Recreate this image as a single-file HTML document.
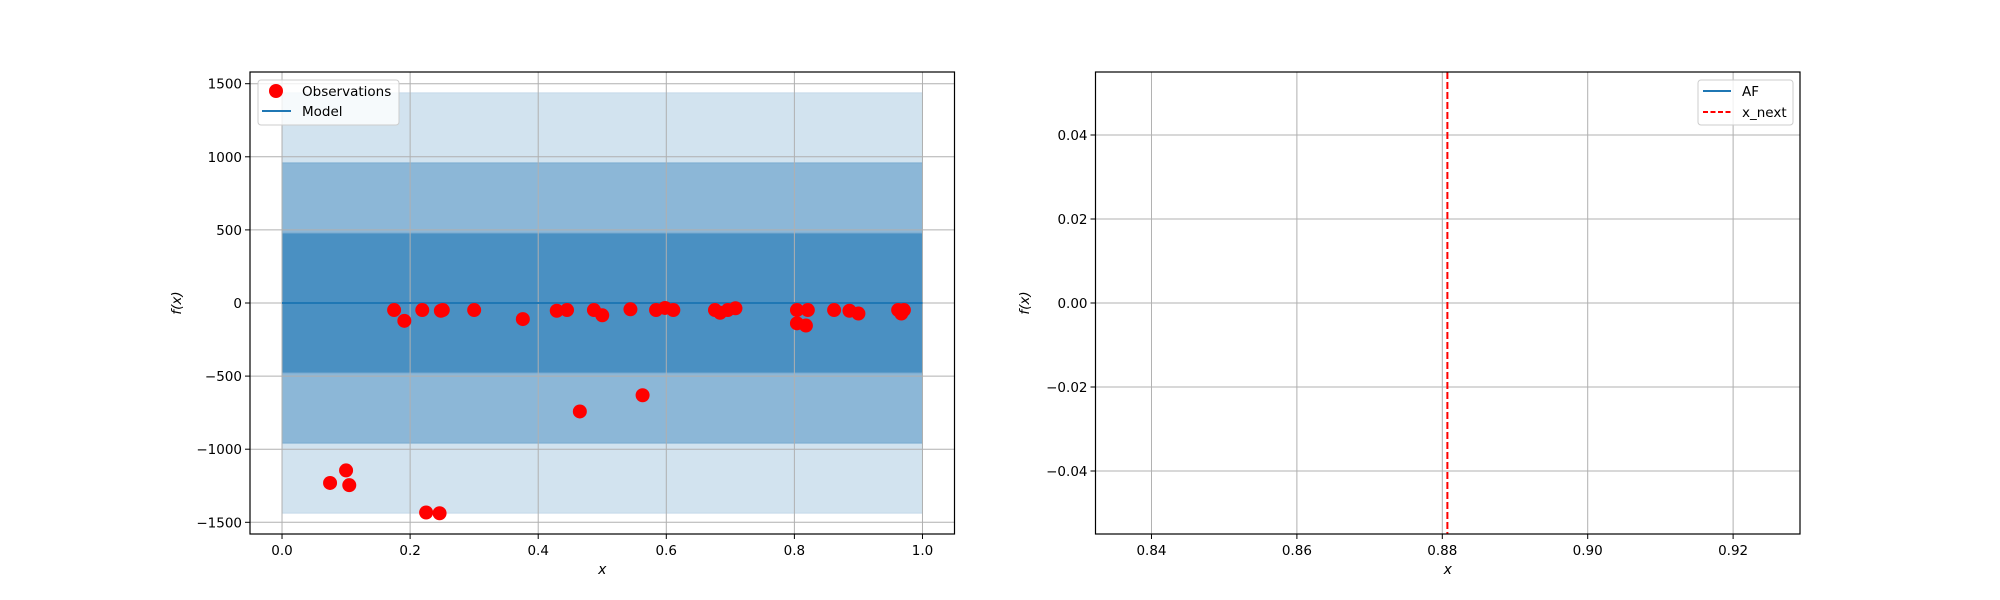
<!DOCTYPE html>
<html><head><meta charset="utf-8"><style>
html,body{margin:0;padding:0;background:#fff}
svg{display:block;font-family:"DejaVu Sans","Liberation Sans",sans-serif}
</style></head><body>
<svg id="fig" width="2000" height="600" xmlns="http://www.w3.org/2000/svg"></svg>
<script>
// Left panel data
const obsX = [0.175,0.191,0.219,0.248,0.251,0.300,0.376,0.429,0.445,0.487,0.500,0.544,0.584,0.598,0.611,0.676,0.684,0.696,0.708,0.804,0.804,0.818,0.821,0.862,0.886,0.900,0.962,0.967,0.971,0.465,0.563,0.075,0.100,0.105,0.225,0.246];
const obsY = [-48,-122,-48,-53,-48,-48,-110,-53,-48,-48,-84,-43,-48,-34,-48,-48,-67,-48,-36,-48,-139,-154,-48,-48,-53,-72,-48,-72,-48,-742,-631,-1231,-1145,-1246,-1433,-1438];
const modelX = [0, 1];
const modelY = [0, 0];
const bandSigma = [3, 2, 1];
const sigma = 479;
const leftXTicks = [0.0,0.2,0.4,0.6,0.8,1.0];
const leftXTickLabels = ["0.0","0.2","0.4","0.6","0.8","1.0"];
const leftYTicks = [-1500,-1000,-500,0,500,1000,1500];
const leftYTickLabels = ["\u22121500","\u22121000","\u2212500","0","500","1000","1500"];
// Right panel data
const xNext = [0.8807];
const rightXTicks = [0.84,0.86,0.88,0.90,0.92];
const rightXTickLabels = ["0.84","0.86","0.88","0.90","0.92"];
const rightYTicks = [-0.04,-0.02,0,0.02,0.04];
const rightYTickLabels = ["\u22120.04","\u22120.02","0.00","0.02","0.04"];

const NS="http://www.w3.org/2000/svg";
const svg=document.getElementById('fig');
function mk(tag, attrs, parent){const e=document.createElementNS(NS,tag);for(const k in attrs)e.setAttribute(k,attrs[k]);(parent||svg).appendChild(e);return e;}

function axes(x0,x1,y0,y1,xmin,xmax,ymin,ymax,name){
  const g=mk('g',{});
  
  
  return {g,sx:v=>x0+(v-xmin)/(xmax-xmin)*(x1-x0),sy:v=>y1-(v-ymin)/(ymax-ymin)*(y1-y0),x0,x1,y0,y1};
}
function grid(a,xt,yt){
  xt.forEach(v=>{const l=mk('line',{x1:a.sx(v),x2:a.sx(v),y1:a.y0,y2:a.y1,stroke:'#b0b0b0','stroke-width':1},a.g);
    
    });
  yt.forEach(v=>{const l=mk('line',{x1:a.x0,x2:a.x1,y1:a.sy(v),y2:a.sy(v),stroke:'#b0b0b0','stroke-width':1},a.g);
    
    });
}
function frameTicks(a,xt,xl,yt,yl,ylabel,ylx){
  const f=mk('rect',{x:a.x0,y:a.y0,width:a.x1-a.x0,height:a.y1-a.y0,fill:'none',stroke:'#000','stroke-width':1.2},a.g);
  
  
  xt.forEach((v,i)=>{mk('line',{x1:a.sx(v),x2:a.sx(v),y1:a.y1,y2:a.y1+5,stroke:'#000'},a.g);
    const t=mk('text',{x:a.sx(v),y:a.y1+21,'text-anchor':'middle','font-size':13.5},a.g);t.textContent=xl[i];
    
    });
  yt.forEach((v,i)=>{mk('line',{x1:a.x0-5,x2:a.x0,y1:a.sy(v),y2:a.sy(v),stroke:'#000'},a.g);
    const t=mk('text',{x:a.x0-8,y:a.sy(v)+5,'text-anchor':'end','font-size':13.5},a.g);t.textContent=yl[i];
    
    });
  const xt2=mk('text',{x:(a.x0+a.x1)/2,y:574,'text-anchor':'middle','font-size':14,'font-style':'italic'},a.g);xt2.textContent='x';
  
  
  const yt2=mk('text',{x:ylx,y:(a.y0+a.y1)/2,'text-anchor':'middle','font-size':13.5,'font-style':'italic',transform:`rotate(-90 ${ylx} ${(a.y0+a.y1)/2})`},a.g);yt2.textContent='f(x)';
  
  
}

// Left
const L=axes(250,954.5,72,534,-0.05,1.05,-1580,1580,'left-chart');
const bandColors={3:'#d2e3ef',2:'#8cb7d7',1:'#4a90c2'};
bandSigma.forEach(k=>{
  const r=mk('rect',{x:L.sx(modelX[0]),y:L.sy(k*sigma),width:L.sx(modelX[1])-L.sx(modelX[0]),height:L.sy(-k*sigma)-L.sy(k*sigma),fill:bandColors[k],stroke:k==3?'#c4d9ea':'#7aabd0','stroke-width':1},L.g);
  
  
});
grid(L,leftXTicks,leftYTicks);
const ml=mk('line',{x1:L.sx(modelX[0]),x2:L.sx(modelX[1]),y1:L.sy(modelY[0]),y2:L.sy(modelY[1]),stroke:'#1f77b4','stroke-width':2},L.g);


obsX.forEach((x,i)=>{const c=mk('circle',{cx:L.sx(x),cy:L.sy(obsY[i]),r:7,fill:'#ff0000'},L.g);
  
  });
frameTicks(L,leftXTicks,leftXTickLabels,leftYTicks,leftYTickLabels,'f(x)',181);
// legend left
const lg=mk('g',{});


mk('rect',{x:258,y:80,width:141,height:45,rx:3,fill:'#fff','fill-opacity':0.8,stroke:'#ccc'},lg);
mk('circle',{cx:276,cy:91,r:7,fill:'#ff0000'},lg);
let t=mk('text',{x:302,y:96,'font-size':13.5},lg);t.textContent='Observations';


mk('line',{x1:262,x2:291,y1:111,y2:111,stroke:'#1f77b4','stroke-width':2},lg);
t=mk('text',{x:302,y:116,'font-size':13.5},lg);t.textContent='Model';



// Right
const R=axes(1095.5,1800,72,534,0.8323,0.9292,-0.055,0.055,'right-chart');
grid(R,rightXTicks,rightYTicks);
xNext.forEach(v=>{const l=mk('line',{x1:R.sx(v),x2:R.sx(v),y1:R.y0,y2:R.y1,stroke:'#ff0000','stroke-width':2,'stroke-dasharray':'7,3'},R.g);
  
  });
frameTicks(R,rightXTicks,rightXTickLabels,rightYTicks,rightYTickLabels,'f(x)',1029);
const rg=mk('g',{});


mk('rect',{x:1698,y:80,width:95,height:45,rx:3,fill:'#fff','fill-opacity':0.8,stroke:'#ccc'},rg);
mk('line',{x1:1703,x2:1731,y1:91,y2:91,stroke:'#1f77b4','stroke-width':2},rg);
t=mk('text',{x:1742,y:96,'font-size':13.5},rg);t.textContent='AF';


mk('line',{x1:1703,x2:1731,y1:112,y2:112,stroke:'#ff0000','stroke-width':2,'stroke-dasharray':'5,2.5'},rg);
t=mk('text',{x:1742,y:117,'font-size':13.5},rg);t.textContent='x_next';


</script>
</body></html>
